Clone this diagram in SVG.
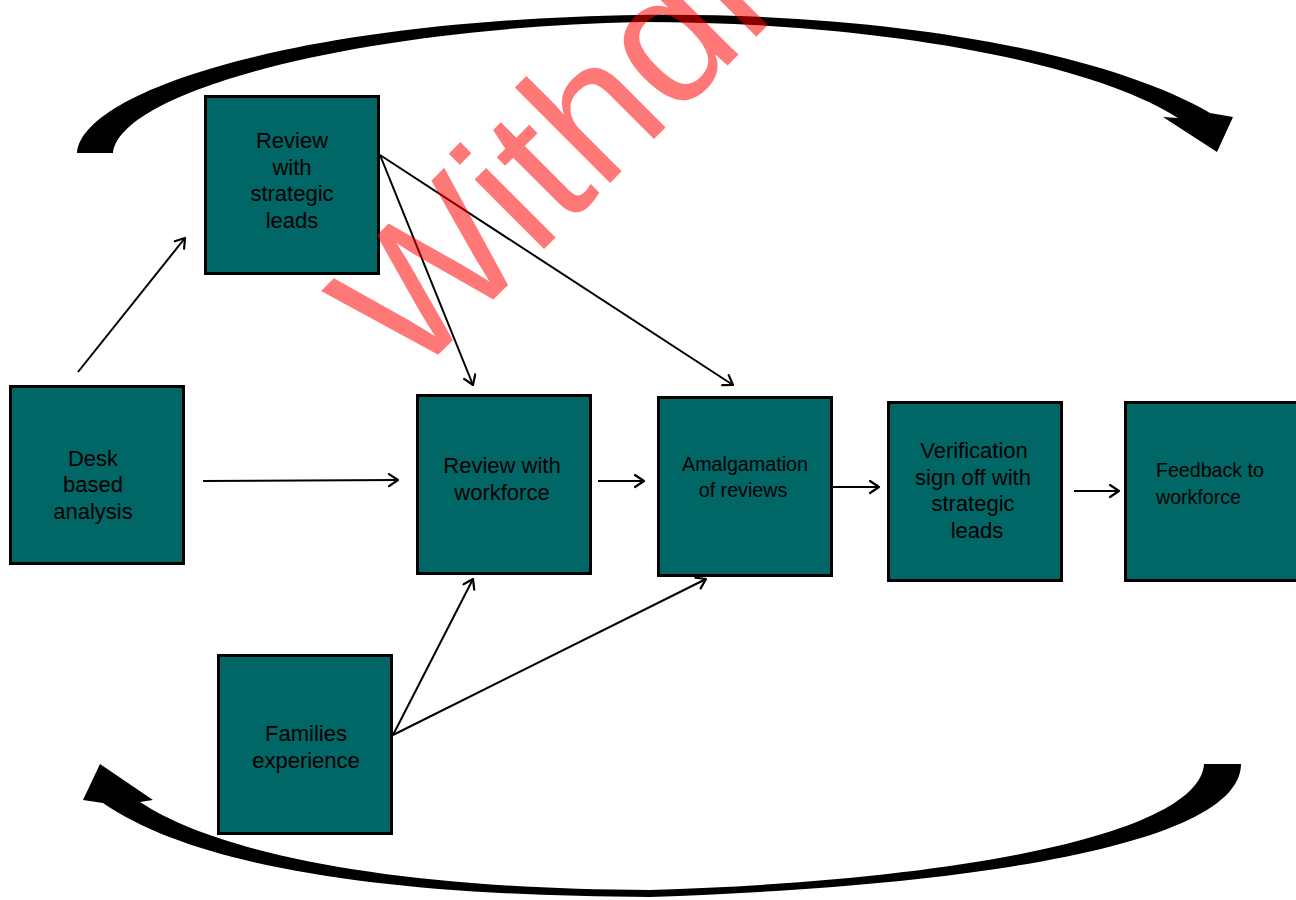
<svg xmlns="http://www.w3.org/2000/svg" width="1296" height="900" viewBox="0 0 1296 900">
<style>
.box{fill:#006666;stroke:#000;stroke-width:3}
.t{font-family:"Liberation Sans",Arial,sans-serif;font-size:22px;fill:#000;text-anchor:middle}
.c{fill:none;stroke:#000;stroke-width:2;marker-end:url(#ah)}
.big{fill:#000}
.wm{font-family:"Liberation Sans",Arial,sans-serif;font-size:186px;fill:#ff0000;fill-opacity:0.53}
</style>
<defs>
<marker id="ah" markerUnits="userSpaceOnUse" markerWidth="16" markerHeight="16" refX="11" refY="7" orient="auto">
<path d="M2,1 L11,7 L2,13" fill="none" stroke="#000" stroke-width="2.2" stroke-linecap="round" stroke-linejoin="round"/>
</marker>
</defs>
<rect width="1296" height="900" fill="#fff"/>
<g id="cycle">
<path class="big" d="M77,153 C82,90 300,20 640,15 C900,12 1110,55 1210,113 L1233,117 L1217,152 L1163,117 L1178,118 C1100,68 900,22 640,22 C360,28 120,90 113,153 Z"/>
<path class="big" d="M1241,764 C1241,840 1000,885 650,897 C400,896 200,870 103,803 L83,800 L100,764 L153,800 L140,802 C220,855 400,889 650,890 C980,880 1200,830 1204,764 Z"/>
</g>
<g id="connectors">
<line class="c" x1="78" y1="372" x2="185" y2="238"/>
<line class="c" x1="203" y1="481" x2="398" y2="480"/>
<line class="c" x1="380" y1="155" x2="473" y2="385"/>
<line class="c" x1="380" y1="155" x2="733" y2="385"/>
<line class="c" x1="598" y1="481" x2="644" y2="481"/>
<line class="c" x1="833" y1="487" x2="879" y2="487"/>
<line class="c" x1="1074" y1="491" x2="1119" y2="491"/>
<line class="c" x1="393" y1="735" x2="473" y2="579"/>
<line class="c" x1="393" y1="735" x2="706" y2="579"/>
</g>
<g id="review-strategic">
<rect class="box" x="205.5" y="96.5" width="173" height="177"/>
<text class="t" x="292" y="148">Review</text>
<text class="t" x="292" y="175">with</text>
<text class="t" x="292" y="201">strategic</text>
<text class="t" x="292" y="228">leads</text>
</g>
<g id="desk">
<rect class="box" x="10.5" y="386.5" width="173" height="177"/>
<text class="t" x="93" y="466">Desk</text>
<text class="t" x="93" y="492">based</text>
<text class="t" x="93" y="519">analysis</text>
</g>
<g id="review-workforce">
<rect class="box" x="417.5" y="395.5" width="173" height="178"/>
<text class="t" x="502" y="473">Review with</text>
<text class="t" x="502" y="500">workforce</text>
</g>
<g id="amalgamation">
<rect class="box" x="658.5" y="397.5" width="173" height="178"/>
<text class="t" x="745" y="471" style="font-size:19.7px">Amalgamation</text>
<text class="t" x="743" y="497" style="font-size:19.7px">of reviews</text>
</g>
<g id="verification">
<rect class="box" x="888.5" y="402.5" width="173" height="178"/>
<text class="t" x="974" y="458">Verification</text>
<text class="t" x="973" y="485">sign off with</text>
<text class="t" x="973" y="511">strategic</text>
<text class="t" x="977" y="538">leads</text>
</g>
<g id="feedback">
<rect class="box" x="1125.5" y="402.5" width="176" height="178"/>
<text class="t" x="1156" y="477" style="font-size:19.6px;text-anchor:start">Feedback to</text>
<text class="t" x="1156" y="504" style="font-size:19.6px;text-anchor:start">workforce</text>
</g>
<g id="families">
<rect class="box" x="218.5" y="655.5" width="173" height="178"/>
<text class="t" x="306" y="741">Families</text>
<text class="t" x="306" y="768">experience</text>
</g>
<g id="watermark">
<text class="wm" transform="translate(411,382) rotate(-45)">Withdrawn</text>
</g>
</svg>
